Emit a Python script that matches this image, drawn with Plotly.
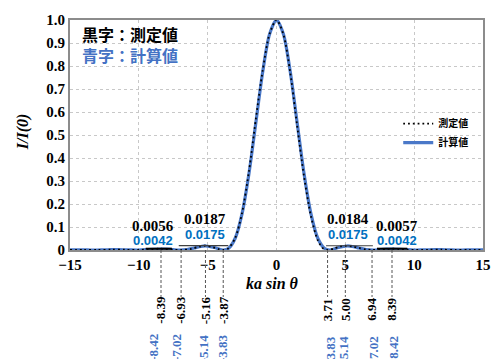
import plotly.graph_objects as go

# Calculated intensity I/I(0) against ka sin(theta)
calc_x = [-15, -14.5, -14, -13.5, -13, -12.5, -12, -11.5, -11, -10.5, -10, -9.5, -9, -8.42, -8, -7.5,
          -7.02, -6.5, -6, -5.5, -5.14, -4.5, -4, -3.83, -3.5, -3, -2.5, -2, -1.5, -1, -0.5, 0,
          0.5, 1, 1.5, 2, 2.5, 3, 3.5, 3.83, 4, 4.5, 5.14, 5.5, 6, 6.5, 7.02, 7.5, 8, 8.42,
          9, 9.5, 10, 10.5, 11, 11.5, 12, 12.5, 13, 13.5, 14, 14.5, 15]
calc_y = [0.0007, 0.0007, 0.0004, 0.0000, 0.0001, 0.0007, 0.0014, 0.0016, 0.0010, 0.0002, 0.0001, 0.0012,
          0.0030, 0.0042, 0.0034, 0.0013, 0.0000, 0.0022, 0.0085, 0.0154, 0.0175, 0.0106, 0.0011, 0.0000,
          0.0062, 0.0511, 0.1581, 0.3326, 0.5534, 0.7746, 0.9391, 1.0000,
          0.9391, 0.7746, 0.5534, 0.3326, 0.1581, 0.0511, 0.0062, 0.0000, 0.0011, 0.0106, 0.0175, 0.0154,
          0.0085, 0.0022, 0.0000, 0.0013, 0.0034, 0.0042, 0.0030, 0.0012, 0.0001, 0.0002, 0.0010, 0.0016,
          0.0014, 0.0007, 0.0001, 0.0000, 0.0004, 0.0007, 0.0007]

# Measured intensity
meas_x = [-15, -14, -13, -12, -11, -10, -9.4, -8.39, -7.5, -6.93, -6.2, -5.6, -5.16, -4.6, -4.2, -3.87,
          -3.5, -3.0, -2.5, -2.0, -1.5, -1.0, -0.5, 0, 0.5, 1.0, 1.5, 2.0, 2.5, 3.0, 3.4, 3.71,
          4.2, 4.6, 5.0, 5.5, 6.0, 6.5, 6.94, 7.5, 8.0, 8.39, 8.9, 9.5, 10, 11, 12, 13, 14, 15]
meas_y = [0.0008, 0.0005, 0.0002, 0.0013, 0.0011, 0.0003, 0.0025, 0.0056, 0.0015, 0.0000, 0.0045, 0.0150,
          0.0187, 0.0120, 0.0040, 0.0000, 0.0070, 0.0520, 0.1620, 0.3420, 0.5700, 0.7820, 0.9400, 1.0000,
          0.9380, 0.7700, 0.5400, 0.3200, 0.1480, 0.0420, 0.0060, 0.0000, 0.0070, 0.0150, 0.0184, 0.0160,
          0.0090, 0.0025, 0.0000, 0.0018, 0.0045, 0.0057, 0.0042, 0.0012, 0.0002, 0.0009, 0.0012, 0.0002,
          0.0004, 0.0006]

# Side-lobe peak levels: (x0, x1, measured, calculated, label x)
peak_spans = [(-9.5, -7.6, 0.0056, 0.0042, -9.0),
              (-7.1, -3.5, 0.0187, 0.0175, -5.2),
              (3.6, 7.0, 0.0184, 0.0175, 5.2),
              (7.3, 9.5, 0.0057, 0.0042, 8.75)]

# Minimum / maximum positions: measured and calculated
pos_meas = [-8.39, -6.93, -5.16, -3.87, 3.71, 5.00, 6.94, 8.39]
pos_calc = [-8.42, -7.02, -5.14, -3.83, 3.83, 5.14, 7.02, 8.42]
calc_shift = [-7, -4, -2, 0, 3, -1, 2, 2]

x_ticks = [-15, -10, -5, 0, 5, 10, 15]
y_ticks = [0, 0.1, 0.2, 0.3, 0.4, 0.5, 0.6, 0.7, 0.8, 0.9, 1.0]
y_tick_text = ["0", "0.1", "0.2", "0.3", "0.4", "0.5", "0.6", "0.7", "0.8", "0.9", "1.0"]

SERIF = "Liberation Serif"
SANS = "Liberation Sans"
CJK = "Noto Sans CJK JP"
BLUE_LINE = "#4a78c8"
BLUE_TEXT = "#0070c0"
BLUE_SOFT = "#4472c4"

W, H = 503, 359
M = dict(l=70, r=14, t=15, b=109)
plot_h = H - M["t"] - M["b"]
plot_w = W - M["l"] - M["r"]


def py(pix):
    """Pixel row -> paper y."""
    return (H - M["b"] - pix) / plot_h


def px(pix):
    """Pixel column -> paper x."""
    return (pix - M["l"]) / plot_w


def label(x, y, text, font, xref="paper", **kw):
    d = dict(x=x, y=y, xref=xref, yref="paper", text=text, showarrow=False,
             xanchor="center", yanchor="middle", font=font)
    d.update(kw)
    return d


fig = go.Figure()
fig.add_trace(go.Scatter(x=calc_x, y=calc_y, mode="lines", name="<b>計算値</b>",
                         line=dict(color=BLUE_LINE, width=3.2, shape="spline", smoothing=0.8)))
fig.add_trace(go.Scatter(x=meas_x, y=meas_y, mode="lines", name="<b>測定値</b>",
                         line=dict(color="black", width=1.8, dash="1.8px,3px", shape="spline",
                                   smoothing=0.8)))

shapes = []
annotations = []

for x0, x1, m, c, lx in peak_spans:
    short = (x1 - x0) < 3
    shapes.append(dict(type="line", xref="x", yref="y", x0=x0, x1=x1, y0=m, y1=m,
                       line=dict(color="black" if short else "#404040", width=2 if short else 1.2)))
    top = 225 if short else 218
    low = 240 if short else 234
    annotations.append(label(lx, py(top), f"<b>{m:.4f}</b>",
                             dict(family=SERIF, size=15, color="black"), xref="x"))
    annotations.append(label(lx, py(low), f"<b>{c:.4f}</b>",
                             dict(family=SANS, size=13, color=BLUE_TEXT), xref="x"))

for pm, pc, sh in zip(pos_meas, pos_calc, calc_shift):
    shapes.append(dict(type="line", xref="x", yref="paper", x0=pm, x1=pm, y0=0, y1=py(298),
                       line=dict(color="#555555", width=1, dash="3px,2px")))
    annotations.append(label(pm, py(311), f"<b>{pm:.2f}</b>",
                             dict(family=SERIF, size=13, color="black"), xref="x", textangle=-90))
    annotations.append(label(pm, py(350), f"<b>{pc:.2f}</b>",
                             dict(family=SERIF, size=13, color=BLUE_SOFT), xref="x", textangle=-90,
                             xshift=sh))

# Colour key: black text = measured, blue text = calculated
key_text = (f"<b>黒字：測定値</b><br>"
            f"<span style='color:{BLUE_SOFT}'><b>青字：計算値</b></span>")

annotations += [
    label(px(80), py(40), key_text, dict(family=CJK, size=16, color="black"),
          xanchor="left", align="left"),
    label(px(22), py(129), "<b><i>I/I(0)</i></b>", dict(family=SERIF, size=16, color="black"),
          textangle=-90),
    label(px(275), py(284), "<b><i>ka sin θ</i></b>", dict(family=SERIF, size=16, color="black")),
]

axis_common = dict(showline=True, mirror=True, linecolor="#8c8c8c", linewidth=2,
                   showgrid=True, gridcolor="#c8c8c8", griddash="dot", gridwidth=1,
                   zeroline=False, ticks="",
                   tickfont=dict(family=SERIF, size=15, color="black", weight="bold"))

fig.update_layout(
    width=W, height=H, margin=M,
    paper_bgcolor="white", plot_bgcolor="white",
    xaxis=dict(range=[-15, 15], tickvals=x_ticks, **axis_common),
    yaxis=dict(range=[0, 1], tickvals=y_ticks, ticktext=y_tick_text, **axis_common),
    legend=dict(x=px(403), y=py(106), xanchor="left", yanchor="top", traceorder="reversed",
                bgcolor="rgba(0,0,0,0)", font=dict(family=CJK, size=10, color="black")),
    shapes=shapes, annotations=annotations,
)

fig.write_html("out.html")
